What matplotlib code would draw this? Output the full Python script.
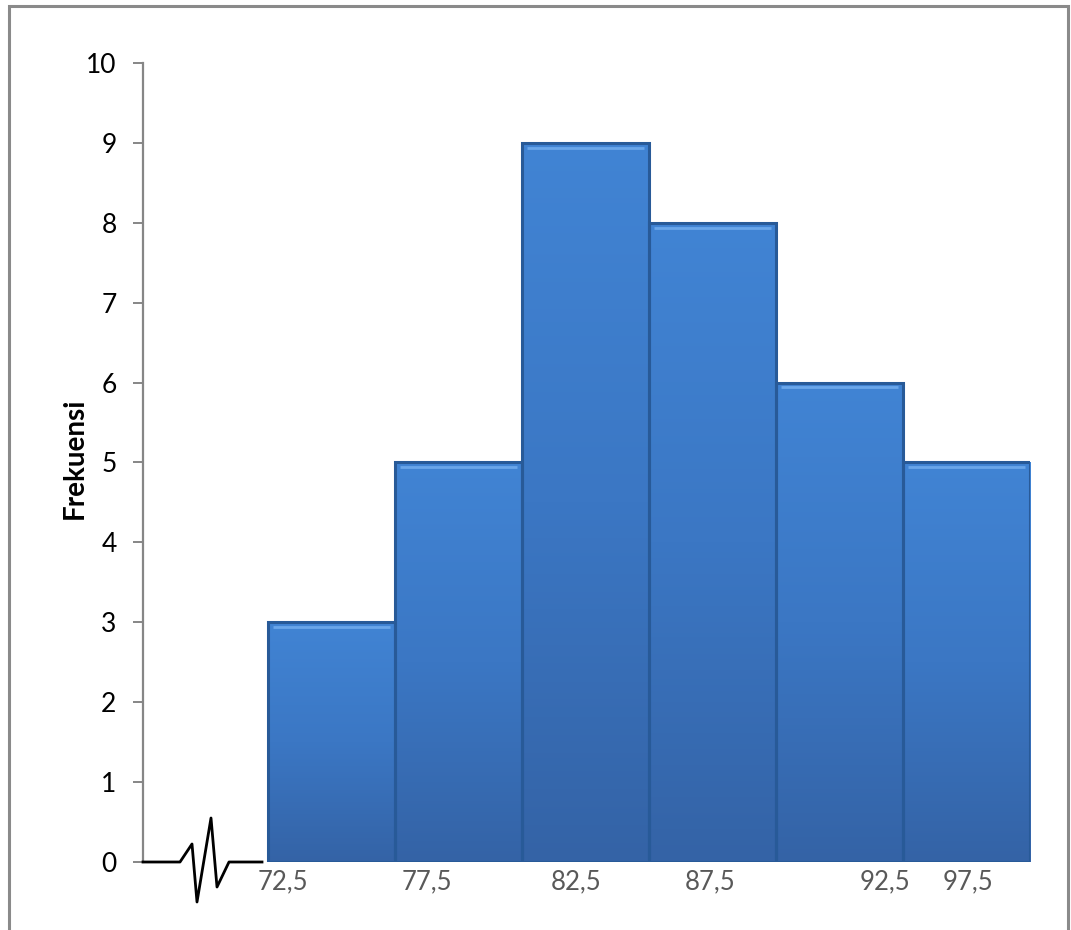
import numpy as np
import matplotlib.pyplot as plt
from matplotlib.patches import Rectangle
from matplotlib.lines import Line2D
from matplotlib.colors import LinearSegmentedColormap

# frekuensi tiap kelas
frekuensi = [3, 5, 9, 8, 6, 5]
# label batas kelas dan posisinya (dalam satuan kelas)
label_x = ['72,5', '77,5', '82,5', '87,5', '92,5', '97,5']
pos_label = [0.12, 1.25, 2.43, 3.48, 4.86, 5.51]

W, H = 1071, 930
fig = plt.figure(figsize=(W / 100, H / 100), dpi=100)
plt.rcParams['font.family'] = ['Lato', 'DejaVu Sans']

ax = fig.add_axes([143 / W, 1 - 862 / H, (1030 - 143) / W, (862 - 63) / H])
ax.set_xlim(-0.984, 6.0)
ax.set_ylim(0, 10)

# batang histogram dengan gradasi biru
cmap = LinearSegmentedColormap.from_list('biru', ['#3463a6', '#3b77c4', '#4184d4'])
grad = np.linspace(0, 1, 256).reshape(-1, 1)
x = np.arange(len(frekuensi))
bars = ax.bar(x, frekuensi, width=1.0, align='edge', color='none',
              edgecolor='#285a98', linewidth=2.2, zorder=3)
for b, f in zip(bars, frekuensi):
    im = ax.imshow(grad, cmap=cmap, origin='lower', aspect='auto',
                   extent=(b.get_x(), b.get_x() + b.get_width(), 0, f), zorder=2)
    im.set_clip_path(b)
    # kilap tipis di sisi atas
    ax.plot([b.get_x() + 0.04, b.get_x() + b.get_width() - 0.04], [f - 0.06, f - 0.06],
            color='#6aa6ea', linewidth=2, zorder=4, solid_capstyle='butt')

for s in ['top', 'right', 'bottom']:
    ax.spines[s].set_visible(False)
ax.spines['left'].set_color('#868686')
ax.spines['left'].set_linewidth(1.6)
ax.set_yticks(range(0, 11))
ax.tick_params(axis='y', length=7, width=1.4, color='#868686', labelsize=19,
               labelcolor='black', pad=12)
ax.set_xticks(pos_label)
ax.set_xticklabels(label_x)
ax.tick_params(axis='x', length=0, labelsize=18.5, labelcolor='#595959', pad=5)
ax.set_ylabel('Frekuensi', fontsize=20, fontweight='bold')
ax.yaxis.set_label_coords(-0.062, 0.505)
ax.patch.set_alpha(0)

# simbol patahan sumbu
zig_px = [(143, 862), (180, 862), (192, 844), (197, 902), (211, 818),
          (217, 887), (229, 862), (262, 862)]
fig.add_artist(Line2D([p[0] / W for p in zig_px], [1 - p[1] / H for p in zig_px],
                      color='black', linewidth=2, transform=fig.transFigure))

# bingkai luar
fig.add_artist(Rectangle((9 / W, -0.05), (1068 - 9) / W, 1.05 - 6 / H,
                         fill=False, edgecolor='#8a8a8a', linewidth=2.2,
                         transform=fig.transFigure))

fig.savefig('out.png', dpi=100)
